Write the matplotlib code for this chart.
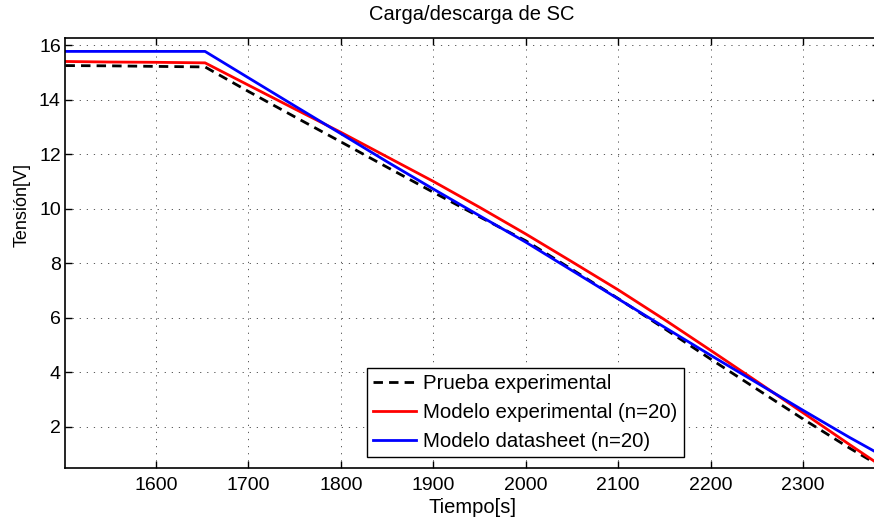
import matplotlib
matplotlib.use('Agg')
from matplotlib import pyplot as plt

plt.rcParams['font.family'] = ['Liberation Sans', 'DejaVu Sans']

# sampled discharge curves (time in s, voltage in V)
tiempo = [1502, 1550, 1600, 1653, 1700, 1750, 1800, 1850, 1900, 1950,
          2000, 2050, 2100, 2150, 2200, 2250, 2300, 2350, 2385]
prueba_exp = [15.25, 15.24, 15.22, 15.20, 14.30, 13.37, 12.45, 11.52, 10.60, 9.70,
              8.82, 7.77, 6.70, 5.60, 4.48, 3.38, 2.28, 1.22, 0.52]
modelo_exp = [15.40, 15.38, 15.37, 15.35, 14.53, 13.66, 12.80, 11.90, 11.00, 10.05,
              9.07, 8.05, 7.02, 5.93, 4.80, 3.66, 2.51, 1.35, 0.55]
modelo_ds = [15.77, 15.77, 15.77, 15.77, 14.80, 13.77, 12.75, 11.72, 10.72, 9.74,
             8.77, 7.73, 6.69, 5.65, 4.62, 3.61, 2.60, 1.61, 0.95]

x_ticks = [1600, 1700, 1800, 1900, 2000, 2100, 2200, 2300]
y_ticks = [2, 4, 6, 8, 10, 12, 14, 16]

fig = plt.figure(figsize=(8.74, 5.2), dpi=100)
ax = fig.add_axes([0.0744, 0.0994, 0.9316, 0.8269])

ax.plot(tiempo, prueba_exp, color='k', lw=2, linestyle=(0, (3.4, 2.2)),
        label='Prueba experimental')
ax.plot(tiempo, modelo_exp, color='#ff0000', lw=2, label='Modelo experimental (n=20)')
ax.plot(tiempo, modelo_ds, color='#0000ff', lw=2, label='Modelo datasheet (n=20)')

ax.set_xlim(1501.5, 2382.5)
ax.set_ylim(0.47, 16.25)
ax.set_xticks(x_ticks)
ax.set_yticks(y_ticks)
ax.grid(True, color='k', lw=0.6, linestyle=(0, (1.5, 7)), alpha=0.75)
ax.tick_params(direction='in', length=5, width=1, labelsize=14, top=True, right=True)
ax.tick_params(axis='x', pad=6)
ax.tick_params(axis='y', pad=3)
for sp in ax.spines.values():
    sp.set_linewidth(1.2)

ax.set_title('Carga/descarga de SC', fontsize=14.5, pad=13)
ax.set_xlabel('Tiempo[s]', fontsize=14.5, labelpad=3)
ax.set_ylabel('Tensión[V]', fontsize=13)
ax.yaxis.set_label_coords(-0.042, 0.612)

leg = ax.legend(loc='lower left', bbox_to_anchor=(0.4199, 0.1212),
                bbox_transform=fig.transFigure, borderaxespad=0, fontsize=14.7,
                handlelength=2.1, handletextpad=0.35, labelspacing=0.48,
                borderpad=0.3, fancybox=False, framealpha=1)
leg.get_frame().set_edgecolor('k')
leg.get_frame().set_linewidth(1.0)

fig.savefig('out.png', dpi=100)
